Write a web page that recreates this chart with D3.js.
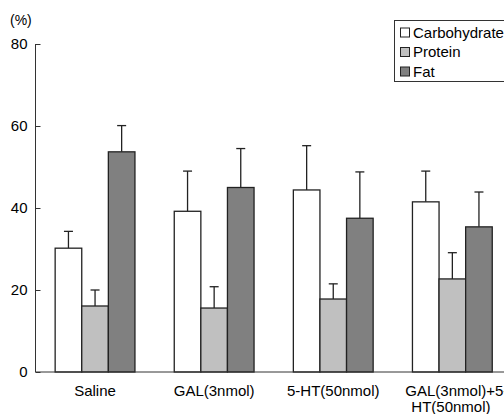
<!DOCTYPE html>
<html>
<head>
<meta charset="utf-8">
<script src="https://cdn.jsdelivr.net/npm/d3@7"></script>
<style>
  html, body { margin: 0; padding: 0; background: #fff; }
  svg { display: block; font-family: "Liberation Sans", Arial, Helvetica, sans-serif; }
</style>
</head>
<body>
<svg id="chart" width="504" height="414"></svg>
<script>
const categories = ["Saline", "GAL(3nmol)", "5-HT(50nmol)", "GAL(3nmol)+5-HT(50nmol)"];
const categoryLines = [["Saline"], ["GAL(3nmol)"], ["5-HT(50nmol)"], ["GAL(3nmol)+5-", "HT(50nmol)"]];
const seriesNames = ["Carbohydrate", "Protein", "Fat"];
const carbohydrate = [30.2, 39.2, 44.4, 41.5];
const carbohydrateSE = [4.1, 9.8, 10.8, 7.5];
const protein = [16.1, 15.6, 17.8, 22.7];
const proteinSE = [3.9, 5.2, 3.7, 6.4];
const fat = [53.7, 45.0, 37.5, 35.4];
const fatSE = [6.4, 9.5, 11.3, 8.5];
const yTicks = [0, 20, 40, 60, 80];
const colors = ["#ffffff", "#c0c0c0", "#808080"];

const values = [carbohydrate, protein, fat];
const errors = [carbohydrateSE, proteinSE, fatSE];

const svg = d3.select("#chart");
const axisX = 35.5, y0px = 372, y80px = 44;

const y = d3.scaleLinear().domain([0, 80]).range([y0px, y80px]);
const x = d3.scaleBand().domain(categories).range([axisX, 511.9]).paddingInner(0.33).paddingOuter(0.165);
const xs = d3.scaleBand().domain(seriesNames).range([0, x.bandwidth()]);

const data = [];
categories.forEach((c, i) => {
  seriesNames.forEach((s, j) => {
    data.push({ cat: c, series: s, j, v: values[j][i], e: errors[j][i] });
  });
});

// error bars
const eg = svg.append("g").attr("stroke", "#222").attr("stroke-width", 1.3);
data.forEach(d => {
  const cx = x(d.cat) + xs(d.series) + xs.bandwidth() / 2;
  eg.append("line").attr("x1", cx).attr("x2", cx).attr("y1", y(d.v)).attr("y2", y(d.v + d.e));
  eg.append("line").attr("x1", cx - 4.5).attr("x2", cx + 4.5).attr("y1", y(d.v + d.e)).attr("y2", y(d.v + d.e));
});

// bars
svg.append("g").selectAll("rect").data(data).join("rect")
  .attr("x", d => x(d.cat) + xs(d.series))
  .attr("y", d => y(d.v))
  .attr("width", xs.bandwidth())
  .attr("height", d => y(0) - y(d.v))
  .attr("fill", d => colors[d.j])
  .attr("stroke", "#222")
  .attr("stroke-width", 1.3);

// y axis
const yAxis = d3.axisLeft(y).tickValues(yTicks).tickSize(-5).tickPadding(8).tickFormat(d3.format("d"));
const yg = svg.append("g").attr("transform", `translate(${axisX},0)`).call(yAxis);
yg.select(".domain").attr("stroke", "#333").attr("d", `M0,${y80px}V${y0px}`);
yg.selectAll(".tick line").attr("stroke", "#333");
yg.selectAll(".tick text").attr("font-size", 15).attr("fill", "#000").attr("font-family", "Liberation Sans, Arial, sans-serif");

// x axis baseline
svg.append("line").attr("x1", axisX).attr("x2", 504).attr("y1", y(0)).attr("y2", y(0))
  .attr("stroke", "#333").attr("stroke-width", 1);

// x labels
categories.forEach((c, i) => {
  const cx = x(c) + x.bandwidth() / 2;
  const multi = categoryLines[i].length > 1;
  const t = svg.append("text").attr("x", cx).attr("y", 396)
    .attr("text-anchor", multi ? "start" : "middle").attr("font-size", 15).attr("fill", "#000");
  categoryLines[i].forEach((ln, k) => {
    t.append("tspan").attr("x", multi ? (k === 0 ? cx - 47 : cx - 41) : cx)
      .attr("dy", k === 0 ? 0 : 16).text(ln);
  });
});

// y unit
svg.append("text").attr("x", 10).attr("y", 25).attr("font-size", 14).attr("fill", "#000").text("(%)");

// legend
const lg = svg.append("g");
lg.append("rect").attr("x", 394.5).attr("y", 20.5).attr("width", 130).attr("height", 61)
  .attr("fill", "#fff").attr("stroke", "#333").attr("stroke-width", 1);
seriesNames.forEach((s, j) => {
  const cy = 32.5 + j * 19.5;
  lg.append("rect").attr("x", 400.5).attr("y", cy - 4.5).attr("width", 9).attr("height", 9)
    .attr("fill", colors[j]).attr("stroke", "#222").attr("stroke-width", 1);
  lg.append("text").attr("x", 413).attr("y", cy + 5.3).attr("font-size", 15).attr("fill", "#000").text(s);
});
</script>
</body>
</html>
